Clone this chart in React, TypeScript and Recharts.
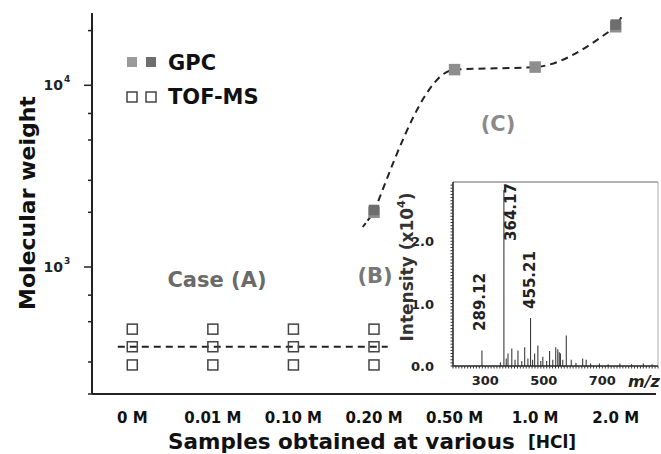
import React from "react";
import { LineChart, Line, XAxis, YAxis, ReferenceLine, ComposedChart, Bar } from "recharts";

// main panel: [HCl] of the samples
const categories = ["0 M", "0.01 M", "0.10 M", "0.20 M", "0.50 M", "1.0 M", "2.0 M"];
const gpcLight = [null, null, null, 2000, 12200, 12600, 21000];
const gpcDark = [null, null, null, 2060, null, null, 21600];
const tofHigh = [455, 455, 455, 455, null, null, null];
const tofMid = [364, 364, 364, 364, null, null, null];
const tofLow = [289, 289, 289, 289, null, null, null];
const yTicks = [200, 300, 400, 500, 600, 700, 800, 900, 1000, 2000, 3000, 4000, 5000, 6000, 7000, 8000, 9000, 10000, 20000];

// inset: TOF-MS spectrum (m/z, intensity x10^4)
const msMz = [289, 352, 364, 372, 378, 391, 402, 412, 425, 435, 446, 455, 462, 469, 480, 490, 497, 510, 520, 531, 541, 548, 553, 557, 565, 577, 594, 610, 633, 645, 660, 690, 720, 760, 800, 840, 870];
const msIntensity = [0.25, 0.06, 2.82, 0.12, 0.2, 0.28, 0.1, 0.25, 0.08, 0.3, 0.12, 0.77, 0.1, 0.2, 0.33, 0.08, 0.15, 0.08, 0.24, 0.1, 0.3, 0.27, 0.22, 0.2, 0.1, 0.49, 0.1, 0.05, 0.12, 0.1, 0.04, 0.04, 0.03, 0.04, 0.03, 0.04, 0.03];
const msXLabels = [300, 500, 700];
const msYLabels = [0, 1, 2];
const msXTicks = Array.from({ length: 71 }, (_, i) => 190 + i * 10);
const msYTicks = Array.from({ length: 59 }, (_, i) => +(i * 0.05).toFixed(2));

const mainData = categories.map((c, i) => ({
  x: i,
  gpcLight: gpcLight[i],
  gpcDark: gpcDark[i],
  tofHigh: tofHigh[i],
  tofMid: tofMid[i],
  tofLow: tofLow[i],
}));
const msData = msMz.map((m, i) => ({ mz: m, intensity: msIntensity[i] }));

const FONT = "'DejaVu Sans', sans-serif";

function squareDot(fill: string, stroke: string, size: number) {
  return (props: any) => {
    const { cx, cy, index } = props;
    if (cx == null || cy == null) return <g key={`n${index}`} />;
    return (
      <rect
        key={`s${index}`}
        x={cx - size / 2}
        y={cy - size / 2}
        width={size}
        height={size}
        fill={fill}
        stroke={stroke}
        strokeWidth={1.5}
      />
    );
  };
}

const LogTick = (props: any) => {
  const { x, y, payload } = props;
  const v = payload.value;
  const major = v === 1000 || v === 10000;
  return (
    <g>
      <line x1={x - (major ? 8 : 4)} x2={x} y1={y} y2={y} stroke="#222" strokeWidth={1.5} />
      {major && (
        <text x={x - 29} y={y + 5} textAnchor="end" fontSize={14} fontWeight="bold" fill="#222">
          10
        </text>
      )}
      {major && (
        <text x={x - 28} y={y - 3} fontSize={9} fontWeight="bold" fill="#222">
          {Math.round(Math.log10(v))}
        </text>
      )}
    </g>
  );
};

const MsYTick = (props: any) => {
  const { x, y, payload } = props;
  const v = payload.value;
  return (
    <g>
      <line x1={x - 2.5} x2={x} y1={y} y2={y} stroke="#333" strokeWidth={1} />
      {msYLabels.includes(v) && (
        <text x={x - 19} y={y + 5} textAnchor="end" fontSize={13} fontWeight="bold" fill="#222">
          {v.toFixed(1)}
        </text>
      )}
    </g>
  );
};

const MsXTick = (props: any) => {
  const { x, y, payload } = props;
  const v = payload.value;
  return (
    <g>
      <line x1={x} x2={x} y1={y} y2={y + 2.5} stroke="#333" strokeWidth={1} />
      {msXLabels.includes(v) && (
        <text x={x} y={y + 19} textAnchor="middle" fontSize={13} fontWeight="bold" fill="#222">
          {v}
        </text>
      )}
    </g>
  );
};

export default function App() {
  const dash = "7 5";
  return (
    <div style={{ position: "absolute", left: 0, top: 0, width: 661, height: 454, fontFamily: FONT, background: "#fff" }}>
      <div style={{ position: "absolute", left: 0, top: 0 }}>
        <LineChart width={661} height={454} data={mainData} margin={{ top: 13, right: 5, bottom: 0, left: 0 }}>
          <XAxis
            dataKey="x"
            type="number"
            domain={[-0.5, 6.5]}
            ticks={[0, 1, 2, 3, 4, 5, 6]}
            tickFormatter={(i) => categories[i]}
            height={60}
            tickLine={false}
            tickMargin={12}
            axisLine={{ stroke: "#222", strokeWidth: 2 }}
            tick={{ fontSize: 15, fontWeight: "bold", fill: "#111" }}
          />
          <YAxis
            type="number"
            scale="log"
            domain={[200, 25000]}
            allowDataOverflow
            ticks={yTicks}
            width={92}
            tickSize={0}
            tickMargin={0}
            tickLine={false}
            axisLine={{ stroke: "#222", strokeWidth: 2 }}
            tick={<LogTick />}
          />
          <ReferenceLine
            segment={[{ x: -0.18, y: 364 }, { x: 3.17, y: 364 }]}
            stroke="#222"
            strokeWidth={1.8}
            strokeDasharray={dash}
          />
          <ReferenceLine
            segment={[{ x: 2.86, y: 1660 }, { x: 3, y: 2000 }]}
            stroke="#222"
            strokeWidth={2}
            strokeDasharray="5 3"
          />
          <ReferenceLine
            segment={[{ x: 6, y: 21000 }, { x: 6.07, y: 23700 }]}
            stroke="#222"
            strokeWidth={2}
          />
          <Line
            dataKey="gpcLight"
            type="monotone"
            stroke="#222"
            strokeWidth={2}
            strokeDasharray={dash}
            dot={squareDot("#8e8e8e", "#8e8e8e", 10)}
            activeDot={false}
            isAnimationActive={false}
          />
          <Line
            dataKey="gpcDark"
            stroke="none"
            dot={squareDot("#6e6e6e", "#6e6e6e", 9)}
            activeDot={false}
            isAnimationActive={false}
          />
          <Line dataKey="tofHigh" stroke="none" dot={squareDot("none", "#444", 10)} activeDot={false} isAnimationActive={false} />
          <Line dataKey="tofMid" stroke="none" dot={squareDot("none", "#444", 10)} activeDot={false} isAnimationActive={false} />
          <Line dataKey="tofLow" stroke="none" dot={squareDot("none", "#444", 10)} activeDot={false} isAnimationActive={false} />
        </LineChart>
      </div>

      <div style={{ position: "absolute", left: 0, top: 0 }}>
        <ComposedChart width={661} height={454} data={msData} margin={{ top: 182, right: 3, bottom: 68, left: 413 }}>
          <XAxis
            dataKey="mz"
            type="number"
            domain={[190, 890]}
            allowDataOverflow
            ticks={msXTicks}
            height={20}
            tickSize={0}
            tickMargin={0}
            tickLine={false}
            axisLine={{ stroke: "#222", strokeWidth: 1.5 }}
            tick={<MsXTick />}
            interval={0}
          />
          <YAxis
            type="number"
            domain={[0, 2.95]}
            allowDataOverflow
            ticks={msYTicks}
            width={40}
            tickSize={0}
            tickMargin={0}
            tickLine={false}
            axisLine={{ stroke: "#222", strokeWidth: 1.5 }}
            tick={<MsYTick />}
            interval={0}
          />
          <ReferenceLine y={2.95} stroke="#999" strokeWidth={1.5} />
          <ReferenceLine x={890} stroke="#aaa" strokeWidth={1} />
          <Bar dataKey="intensity" fill="#333" barSize={1.2} isAnimationActive={false} />
        </ComposedChart>
      </div>

      <svg width={661} height={454} style={{ position: "absolute", left: 0, top: 0, pointerEvents: "none" }}>
        <text x={27} y={203} transform="rotate(-90 27 203)" textAnchor="middle" dominantBaseline="central" fontSize={22} fontWeight="bold" fill="#111">
          Molecular weight
        </text>
        <text x={168} y={449} fontSize={21.5} fontWeight="bold" fill="#111">
          Samples obtained at various
        </text>
        <text x={528} y={448} fontSize={17} fontWeight="bold" fill="#111">
          [HCl]
        </text>

        <rect x={127} y={57} width={10} height={10} fill="#9a9a9a" />
        <rect x={146} y={57} width={10} height={10} fill="#6e6e6e" />
        <text x={168} y={63} dominantBaseline="central" fontSize={21} fontWeight="bold" fill="#111">
          GPC
        </text>
        <rect x={127} y={92} width={10} height={10} fill="none" stroke="#444" strokeWidth={1.5} />
        <rect x={146} y={92} width={10} height={10} fill="none" stroke="#444" strokeWidth={1.5} />
        <text x={168} y={97} dominantBaseline="central" fontSize={21} fontWeight="bold" fill="#111">
          TOF-MS
        </text>

        <text x={217} y={280} textAnchor="middle" dominantBaseline="central" fontSize={21} fontWeight="bold" fill="#6a6a6a">
          Case (A)
        </text>
        <text x={375} y={276} textAnchor="middle" dominantBaseline="central" fontSize={21} fontWeight="bold" fill="#777">
          (B)
        </text>
        <text x={498} y={124} textAnchor="middle" dominantBaseline="central" fontSize={21} fontWeight="bold" fill="#8a8a8a">
          (C)
        </text>

        <text x={407} y={267} transform="rotate(-90 407 267)" textAnchor="middle" dominantBaseline="central" fontSize={17} fontWeight="bold" fill="#333">
          Intensity (x10<tspan dy={-6} fontSize={11}>4</tspan><tspan dy={6}>)</tspan>
        </text>
        <text x={480} y={302} transform="rotate(-90 480 302)" textAnchor="middle" dominantBaseline="central" fontSize={15} fontWeight="bold" fill="#222">
          289.12
        </text>
        <text x={511} y={212} transform="rotate(-90 511 212)" textAnchor="middle" dominantBaseline="central" fontSize={15} fontWeight="bold" fill="#222">
          364.17
        </text>
        <text x={530} y={280} transform="rotate(-90 530 280)" textAnchor="middle" dominantBaseline="central" fontSize={15} fontWeight="bold" fill="#222">
          455.21
        </text>
        <text x={628} y={381} dominantBaseline="central" fontSize={16} fontWeight="bold" fontStyle="italic" fill="#222">
          m/z
        </text>
      </svg>
    </div>
  );
}
